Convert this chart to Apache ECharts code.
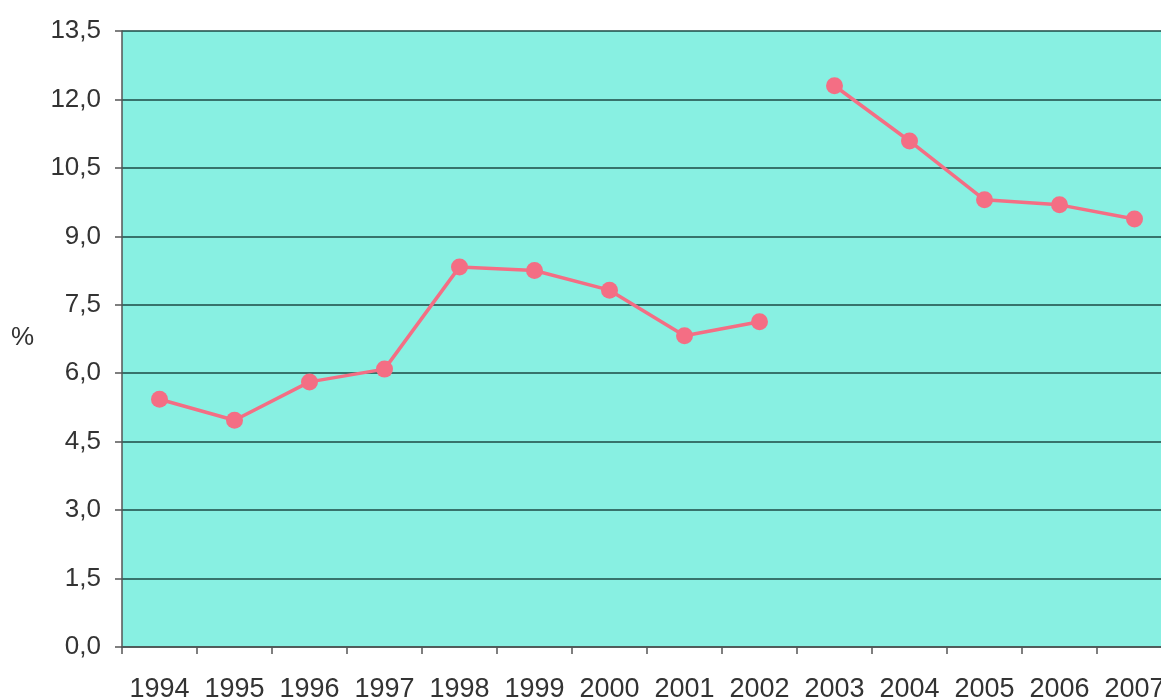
<!DOCTYPE html>
<html>
<head>
<meta charset="utf-8">
<title>%</title>
<script src="https://cdn.jsdelivr.net/npm/echarts@6/dist/echarts.min.js"></script>
<style>
  html, body { margin: 0; padding: 0; background: #ffffff; }
  #chart { width: 1161px; height: 700px; }
</style>
</head>
<body>
<div id="chart"></div>
<script>
// Years on the horizontal axis
const years = ['1994', '1995', '1996', '1997', '1998', '1999', '2000',
               '2001', '2002', '2003', '2004', '2005', '2006', '2007'];

// Two runs of the series; the line is broken between 2002 and 2003
const ratesEarly = [5.43, 4.97, 5.81, 6.09, 8.33, 8.25, 7.82, 6.82, 7.13]; // 1994–2002
const ratesLate = [12.30, 11.09, 9.80, 9.69, 9.38];                         // 2003–2007

// Value axis range and step
const yMin = 0;
const yMax = 13.5;
const yStep = 1.5;

// Pad each run with nulls so both line up on the shared category axis
const earlyData = years.map((y, i) => (i < ratesEarly.length ? ratesEarly[i] : null));
const lateData = years.map((y, i) => {
  const k = i - (years.length - ratesLate.length);
  return k >= 0 ? ratesLate[k] : null;
});

const lineColor = '#f46e84';
const textColor = '#333333';

function lineSeries(data) {
  return {
    type: 'line',
    data: data,
    connectNulls: false,
    symbol: 'circle',
    symbolSize: 17,
    lineStyle: { color: lineColor, width: 3.5 },
    itemStyle: { color: lineColor },
    emphasis: { disabled: true },
    animation: false
  };
}

const chart = echarts.init(document.getElementById('chart'), null, { renderer: 'canvas' });
chart.setOption({
  backgroundColor: '#ffffff',
  animation: false,
  // The plot runs a little past the right edge of the canvas
  grid: {
    left: 122,
    top: 31,
    width: 1050,
    bottom: 53,
    outerBoundsMode: 'none',
    containLabel: false,
    show: true,
    backgroundColor: '#88f0e2',
    borderWidth: 0
  },
  xAxis: {
    type: 'category',
    data: years,
    boundaryGap: true,
    axisLine: { show: true, lineStyle: { color: '#555555', width: 1.5 } },
    axisTick: { show: true, alignWithLabel: false, length: 7, lineStyle: { color: '#555555', width: 1.5 } },
    axisLabel: {
      color: textColor,
      fontFamily: 'Liberation Sans, Arial, sans-serif',
      fontSize: 27,
      margin: 29,
      interval: 0,
      hideOverlap: false
    },
    splitLine: { show: false }
  },
  yAxis: {
    type: 'value',
    min: yMin,
    max: yMax,
    interval: yStep,
    axisLine: { show: true, lineStyle: { color: '#555555', width: 1.5 } },
    axisTick: { show: true, inside: false, length: 7, lineStyle: { color: '#555555', width: 1.5 } },
    axisLabel: {
      color: textColor,
      fontFamily: 'Liberation Sans, Arial, sans-serif',
      fontSize: 26,
      margin: 21,
      formatter: v => v.toFixed(1).replace('.', ',')
    },
    splitLine: { show: true, lineStyle: { color: '#1c4a45', width: 1.5 } }
  },
  graphic: [{
    type: 'text',
    left: 11,
    top: 325,
    style: {
      text: '%',
      fill: textColor,
      font: '26px "Liberation Sans", Arial, sans-serif'
    }
  }],
  series: [lineSeries(earlyData), lineSeries(lateData)]
});
</script>
</body>
</html>
